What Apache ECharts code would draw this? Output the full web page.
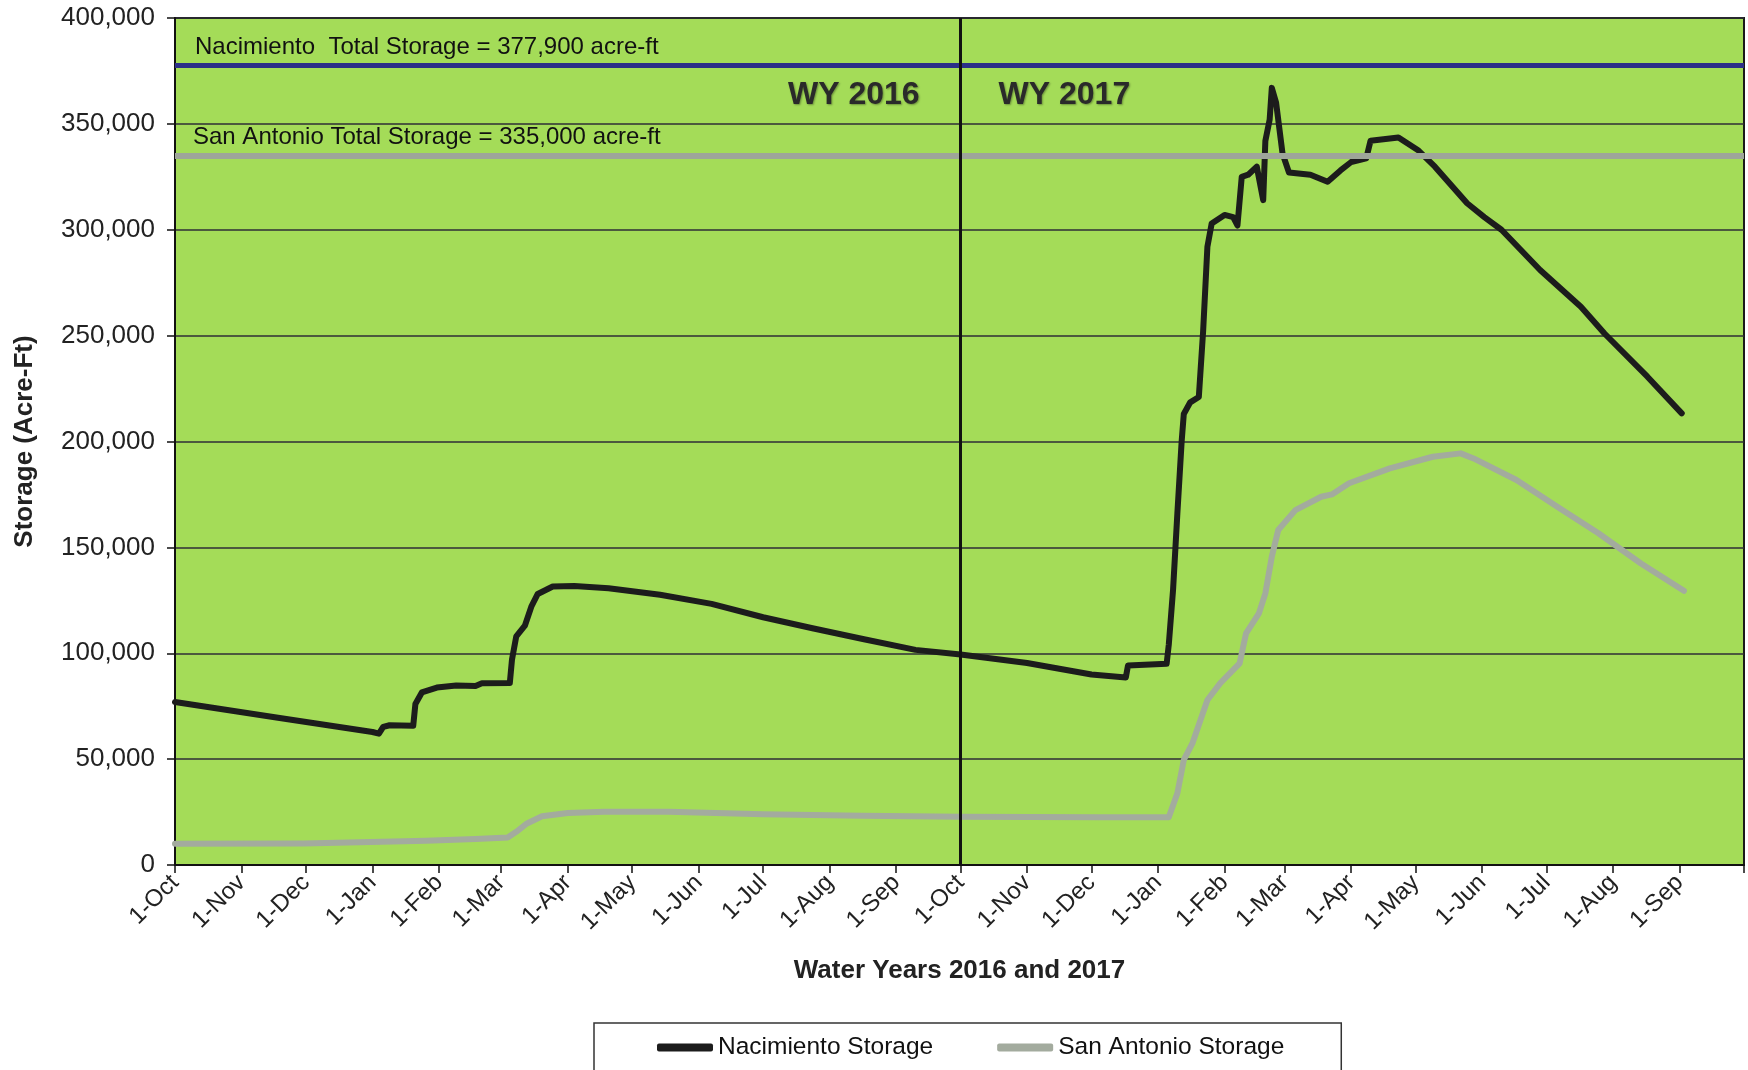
<!DOCTYPE html>
<html>
<head>
<meta charset="utf-8">
<script src="https://cdn.jsdelivr.net/npm/echarts@6/dist/echarts.min.js"></script>
<style>
html,body{margin:0;padding:0;background:#ffffff;}
#chart{width:1748px;height:1070px;}
</style>
</head>
<body>
<div id="chart"></div>
<script>
// ---- tick labels ----
const monthAbbr = ['Jan','Feb','Mar','Apr','May','Jun','Jul','Aug','Sep','Oct','Nov','Dec'];
const axisStart = '2015-10-01';
const axisEnd = '2017-10-01';
const waterYearBoundary = '2016-10-01';
const waterYearLabels = ['WY 2016', 'WY 2017'];

// ---- reservoir capacities ----
const capacityLabels = ['Nacimiento  Total Storage = 377,900 acre-ft', 'San Antonio Total Storage = 335,000 acre-ft'];
const capacityValues = [377900, 335000];

// ---- Nacimiento storage (acre-ft) ----
const nacimientoDates = [
  '2015-10-01','2015-11-18','2016-01-01','2016-01-04','2016-01-06','2016-01-09','2016-01-20','2016-01-21',
  '2016-01-24','2016-01-31','2016-02-09','2016-02-18','2016-02-21','2016-03-05','2016-03-06','2016-03-08',
  '2016-03-12','2016-03-15','2016-03-18','2016-03-25','2016-04-04','2016-04-20','2016-05-14','2016-06-07',
  '2016-07-01','2016-07-24','2016-08-17','2016-09-10','2016-10-01','2016-11-01','2016-12-01','2016-12-17',
  '2016-12-18','2017-01-05','2017-01-06','2017-01-08','2017-01-10','2017-01-12','2017-01-13','2017-01-16',
  '2017-01-20','2017-01-22','2017-01-24','2017-01-26','2017-02-01','2017-02-05','2017-02-07','2017-02-09',
  '2017-02-12','2017-02-16','2017-02-19','2017-02-20','2017-02-22','2017-02-23','2017-02-25','2017-02-28',
  '2017-03-03','2017-03-13','2017-03-21','2017-03-27','2017-04-01','2017-04-08','2017-04-10','2017-04-16',
  '2017-04-23','2017-05-02','2017-05-10','2017-05-25','2017-06-02','2017-06-10','2017-06-28','2017-07-17',
  '2017-07-28','2017-08-17','2017-09-02'
];
const nacimientoStorage = [
  77000, 69500, 62800, 62000, 65200, 66000, 65800, 76000,
  81500, 83800, 84800, 84500, 85800, 86000, 97000, 108000,
  113000, 122000, 128000, 131500, 131800, 130700, 127600, 123300,
  117000, 111800, 106600, 101600, 99400, 95400, 90000, 88600,
  94200, 95000, 104000, 130000, 166000, 200000, 213000, 218500,
  221000, 252000, 292000, 303000, 307000, 306000, 302000, 325000,
  326000, 329800, 314000, 342000, 352000, 367000, 360000, 336000,
  327000, 326000, 322700, 328000, 332000, 333700, 342000, 342700,
  343600, 337700, 329800, 312500, 306000, 300000, 281000, 263600,
  251000, 230600, 213300
];

// ---- San Antonio storage (acre-ft) ----
const sanAntonioDates = [
  '2015-10-01','2015-11-30','2016-01-26','2016-02-18','2016-03-04','2016-03-08','2016-03-13','2016-03-20',
  '2016-04-01','2016-04-18','2016-05-18','2016-07-01','2016-08-16','2016-10-01','2016-12-05','2017-01-06',
  '2017-01-10','2017-01-13','2017-01-17','2017-01-24','2017-01-30','2017-02-08','2017-02-11','2017-02-17',
  '2017-02-20','2017-02-23','2017-02-26','2017-03-06','2017-03-18','2017-03-23','2017-03-31','2017-04-19',
  '2017-05-09','2017-05-22','2017-05-28','2017-06-17','2017-07-06','2017-07-25','2017-08-14','2017-09-03'
];
const sanAntonioStorage = [
  10000, 10200, 11500, 12300, 13000, 15700, 19600, 23000,
  24600, 25100, 25100, 24000, 23200, 22800, 22500, 22500,
  33900, 49600, 57400, 77900, 85900, 95200, 109400, 118800,
  128300, 145600, 158200, 167600, 173900, 175000, 180300, 187300,
  192800, 194400, 192000, 181800, 169200, 156800, 142400, 129500
];

function ts(s) {
  const p = s.split('-').map(Number);
  return new Date(p[0], p[1] - 1, p[2]).getTime();
}
function pairs(dates, values) {
  return dates.map((d, i) => [ts(d), values[i]]);
}

const FONT = '"Liberation Sans", Arial, sans-serif';
const DAY = 86400000;
const END_TS = ts(axisEnd);

const chart = echarts.init(document.getElementById('chart'), null, {renderer: 'canvas'});

const option = {
  animation: false,
  backgroundColor: '#ffffff',
  textStyle: {fontFamily: FONT},
  grid: {
    left: 175, right: 4, top: 18, bottom: 205,
    show: true,
    backgroundColor: '#a4dc58',
    borderColor: '#1a1a1a',
    borderWidth: 2
  },
  legend: {
    data: ['Nacimiento Storage', 'San Antonio Storage'],
    left: 594,
    top: 1023,
    padding: [12, 57, 12, 63],
    itemGap: 64,
    itemWidth: 56,
    itemHeight: 8,
    icon: 'roundRect',
    borderColor: '#333',
    borderWidth: 1.5,
    backgroundColor: '#ffffff',
    textStyle: {fontSize: 24.5, color: '#111', fontFamily: FONT}
  },
  xAxis: {
    type: 'time',
    min: ts(axisStart),
    max: END_TS,
    splitNumber: 24,
    minInterval: 28 * DAY,
    maxInterval: 31 * DAY,
    name: 'Water Years 2016 and 2017',
    nameLocation: 'middle',
    nameGap: 93,
    nameTextStyle: {fontSize: 26, fontWeight: 'bold', color: '#222', fontFamily: FONT},
    axisLine: {show: true, lineStyle: {color: '#111', width: 2}},
    axisTick: {show: true, length: 8, lineStyle: {color: '#111', width: 1.5}},
    splitLine: {show: false},
    axisLabel: {
      rotate: 45,
      margin: 14,
      fontSize: 24,
      color: '#222',
      fontFamily: FONT,
      showMinLabel: true,
      formatter: function (v) {
        if (v >= END_TS) return '';
        return '1-' + monthAbbr[new Date(v).getMonth()];
      }
    }
  },
  yAxis: {
    type: 'value',
    min: 0,
    max: 400000,
    interval: 50000,
    name: 'Storage (Acre-Ft)',
    nameLocation: 'middle',
    nameGap: 137,
    nameTextStyle: {fontSize: 26, fontWeight: 'bold', color: '#222', fontFamily: FONT},
    axisLine: {show: true, lineStyle: {color: '#111', width: 2}},
    axisTick: {show: true, length: 8, lineStyle: {color: '#111', width: 1.5}},
    axisLabel: {
      margin: 20,
      fontSize: 26,
      color: '#222',
      fontFamily: FONT,
      formatter: function (v) { return v.toLocaleString('en-US'); }
    },
    splitLine: {show: true, lineStyle: {color: '#2e2e36', width: 1.5}}
  },
  series: [
    {
      name: 'annotations',
      type: 'line',
      data: [],
      z: 1,
      silent: true,
      markLine: {
        silent: true,
        symbol: ['none', 'none'],
        animation: false,
        data: [
          {
            yAxis: capacityValues[0],
            lineStyle: {color: '#2b2f88', width: 5, type: 'solid'},
            label: {show: true, position: 'insideStartTop', distance: [20, 5], formatter: capacityLabels[0],
                     fontSize: 24, color: '#111', fontFamily: FONT}
          },
          {
            yAxis: capacityValues[1],
            lineStyle: {color: '#9ea59a', width: 6, type: 'solid'},
            label: {show: true, position: 'insideStartTop', distance: [18, 6], formatter: capacityLabels[1],
                     fontSize: 24, color: '#111', fontFamily: FONT}
          },
          {
            xAxis: ts(waterYearBoundary),
            lineStyle: {color: '#111', width: 3, type: 'solid'},
            label: {show: false}
          }
        ]
      },
      markPoint: {
        silent: true,
        symbol: 'circle',
        symbolSize: 0,
        itemStyle: {color: 'rgba(0,0,0,0)'},
        data: [
          {
            coord: [ts(waterYearBoundary), 363600],
            label: {show: true, position: 'left', distance: 41, formatter: waterYearLabels[0],
                    fontSize: 32, fontWeight: 'bold', color: '#2a2a2a', fontFamily: FONT,
                    textShadowColor: 'rgba(0,0,0,0.35)', textShadowBlur: 2, textShadowOffsetX: 1, textShadowOffsetY: 1}
          },
          {
            coord: [ts(waterYearBoundary), 363600],
            label: {show: true, position: 'right', distance: 38, formatter: waterYearLabels[1],
                    fontSize: 32, fontWeight: 'bold', color: '#2a2a2a', fontFamily: FONT,
                    textShadowColor: 'rgba(0,0,0,0.35)', textShadowBlur: 2, textShadowOffsetX: 1, textShadowOffsetY: 1}
          }
        ]
      }
    },
    {
      name: 'Nacimiento Storage',
      type: 'line',
      z: 4,
      symbol: 'none',
      data: pairs(nacimientoDates, nacimientoStorage),
      itemStyle: {color: '#1c1c1c'},
      lineStyle: {color: '#1c1c1c', width: 6, join: 'round', cap: 'round'}
    },
    {
      name: 'San Antonio Storage',
      type: 'line',
      z: 3,
      symbol: 'none',
      data: pairs(sanAntonioDates, sanAntonioStorage),
      itemStyle: {color: '#a3ab9e'},
      lineStyle: {color: '#a3ab9e', width: 6, join: 'round', cap: 'round'}
    }
  ]
};

chart.setOption(option);
</script>
</body>
</html>
